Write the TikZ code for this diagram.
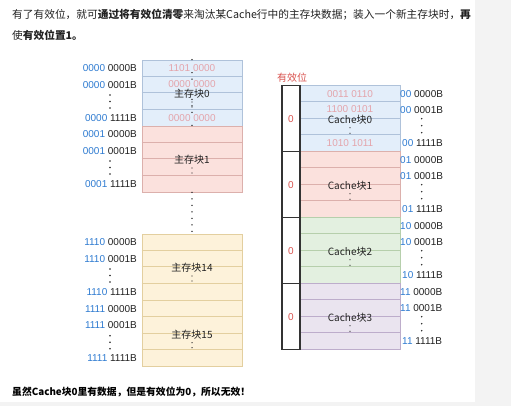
\documentclass[tikz,border=0pt]{standalone}
\usepackage{fontspec}
\usepackage{xcolor}
\usepackage{tikz}
\setmainfont{Liberation Sans}
\newfontfamily\cjk{Noto Sans CJK SC}
\usetikzlibrary{positioning}

\definecolor{pagegray}{HTML}{F3F3F3}
\definecolor{bluefill}{HTML}{E3EEFA}
\definecolor{bluedraw}{HTML}{AFC2DA}
\definecolor{redfill}{HTML}{FBE1DD}
\definecolor{reddraw}{HTML}{DCB0AC}
\definecolor{greenfill}{HTML}{E3F0E0}
\definecolor{greendraw}{HTML}{B6CFAC}
\definecolor{purplefill}{HTML}{EAE4EF}
\definecolor{purpledraw}{HTML}{BDADCB}
\definecolor{yellowfill}{HTML}{FDF2DA}
\definecolor{yellowdraw}{HTML}{E3CF9F}
\definecolor{addrblue}{HTML}{2E7BD1}
\definecolor{validred}{HTML}{D9534F}
\definecolor{fadedred}{HTML}{E3A4AB}
\definecolor{validline}{HTML}{333333}
\definecolor{textdark}{HTML}{222222}

\newcommand{\diagsize}{\fontsize{10pt}{12pt}\selectfont}
\newcommand{\headsize}{\fontsize{10.7pt}{13pt}\selectfont}
\newcommand{\notesize}{\fontsize{9.8pt}{12pt}\selectfont}

\begin{document}
\begin{tikzpicture}[x=1pt, y=-1pt,
    memblock/.style={draw, line width=0.8pt, minimum width=100pt, minimum height=66pt, inner sep=0pt},
    validbox/.style={draw=validline, line width=1.2pt, minimum width=18pt, minimum height=66pt, inner sep=0pt, text=validred, font=\diagsize},
    addr/.style={font=\diagsize, text=textdark, inner sep=0pt},
    faded/.style={font=\diagsize, text=fadedred, inner sep=0pt},
    blocklabel/.style={font=\cjk\diagsize, text=textdark, inner sep=0.5pt},
    dotline/.style={line width=1.6pt, line cap=round, dash pattern=on 0pt off 6.5pt, textdark}]

% Background and frame
\fill[pagegray] (0,0) rectangle (511,406);
\fill[white] (0,0) rectangle (475,402);
\useasboundingbox (0,0) rectangle (511,406);

% Header text
\node[anchor=west, font=\cjk\headsize, text=textdark, inner sep=0pt] (head1) at (12,15)
    {有了有效位，就可\textbf{通过将有效位清零}来淘汰某Cache行中的主存块数据；装入一个新主存块时，\textbf{再}};
\node[anchor=west, font=\cjk\headsize, text=textdark, inner sep=0pt] (head2) at (12,35)
    {使\textbf{有效位置1。}};

% Main memory blocks
\foreach \name/\top/\fc/\dc/\lbl/\pre in {mb0/60/bluefill/bluedraw/0/0000, mb1/126/redfill/reddraw/1/0001,
    mb14/234/yellowfill/yellowdraw/14/1110, mb15/300.7/yellowfill/yellowdraw/15/1111}
{
    \node[memblock, fill=\fc, draw=\dc] (\name) at (192,\top+33) {};
    \foreach \r in {1,2,3}
        \draw[\dc, line width=0.8pt] (\name.north west) ++(0,16.5*\r) -- ++(100,0);
    \node[blocklabel] (\name-label) at (192,\top+34) {主存块\lbl};
    \fill[textdark] (192,\top+42) circle (0.7pt) (192,\top+47) circle (0.7pt);

    % addresses on the left
    \node[addr, anchor=east] (\name-a0) at (137,\top+8.25) {\textcolor{addrblue}{\pre} 0000B};
    \node[addr, anchor=east] (\name-a1) at (137,\top+24.75) {\textcolor{addrblue}{\pre} 0001B};
    \node[addr, anchor=east] (\name-a15) at (137,\top+57.75) {\textcolor{addrblue}{\pre} 1111B};
    \foreach \d in {35,41.5,48}
        \fill[textdark] (110,\top+\d) circle (0.8pt);
}

% Old data left in main block 0
\draw[dotline] (mb0.north) -- (mb0-label.north);
\draw[dotline] (mb0-label.south) -- (mb0.south);
\node[faded, fill=bluefill] (mb0-d0) at (192,68.25) {1101 0000};
\node[faded, fill=bluefill] (mb0-d1) at (192,84.25) {0000 0000};
\node[faded, fill=bluefill] (mb0-d3) at (192,117.75) {0000 0000};

% Skipped blocks
\draw[dotline] (mb1.south) -- (mb14.north);

% Cache lines with valid bits
\node[anchor=west, font=\cjk\diagsize, text=validred, inner sep=0pt] (validtitle) at (277,78) {有效位};
\foreach \k/\fc/\dc/\pre in {0/bluefill/bluedraw/00, 1/redfill/reddraw/01,
    2/greenfill/greendraw/10, 3/purplefill/purpledraw/11}
{
    \pgfmathsetmacro\top{85.7+66*\k}
    \node[memblock, fill=\fc, draw=\dc] (cb\k) at (350,\top+33) {};
    \foreach \r in {1,2,3}
        \draw[\dc, line width=0.8pt] (cb\k.north west) ++(0,16.5*\r) -- ++(100,0);
    \node[validbox] (v\k) at (291,\top+33) {0};
    \node[blocklabel] (cb\k-label) at (350,\top+34.5) {Cache块\k};
    \fill[textdark] (350,\top+42) circle (0.6pt) (350,\top+47.5) circle (0.6pt);

    % addresses on the right
    \node[addr, anchor=west] (cb\k-a0) at (400,\top+8.25) {\textcolor{addrblue}{\pre} 0000B};
    \node[addr, anchor=west] (cb\k-a1) at (400,\top+24.75) {\textcolor{addrblue}{\pre} 0001B};
    \node[addr, anchor=west] (cb\k-a15) at (402,\top+57.75) {\textcolor{addrblue}{\pre} 1111B};
    \foreach \d in {33,40,47}
        \fill[textdark] (421.7,\top+\d) circle (0.8pt);
}

% Old data left in cache block 0
\node[faded] (cb0-d0) at (350,93.95) {0011 0110};
\node[faded] (cb0-d1) at (350,109.2) {1100 0101};
\node[faded] (cb0-d3) at (350,143.45) {1010 1011};

% Note at the bottom
\node[anchor=west, font=\cjk\bfseries\notesize, text=black, inner sep=0pt] (note) at (12,392)
    {虽然Cache块0里有数据，但是有效位为0，所以无效！};

\end{tikzpicture}
\end{document}
